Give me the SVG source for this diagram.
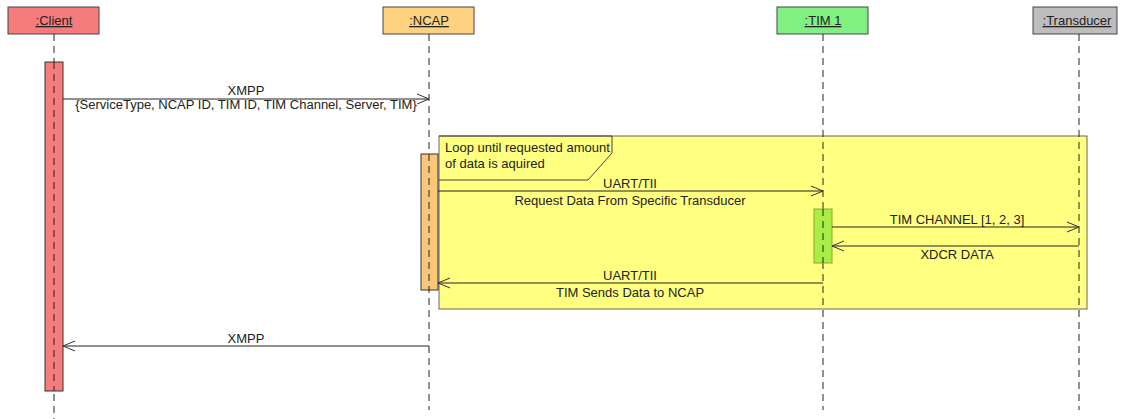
<svg xmlns="http://www.w3.org/2000/svg" width="1122" height="419" viewBox="0 0 1122 419">
  <style>
    .head { stroke: #444; stroke-width: 1; }
    .name { font-family: "Liberation Sans", Arial, sans-serif; font-size: 13px; fill: #222; text-anchor: middle; text-decoration: underline; }
    .life { stroke: #222; stroke-width: 1; stroke-dasharray: 7 5; fill: none; }
    .act { stroke: #333; stroke-width: 1; }
    .msg { stroke: #222; stroke-width: 1; fill: none; }
    .lbl { font-family: "Liberation Sans", Arial, sans-serif; font-size: 13px; fill: #222; text-anchor: middle; }
    .note { font-family: "Liberation Sans", Arial, sans-serif; font-size: 13px; fill: #222; }
  </style>
  <defs>
    <marker id="open" viewBox="0 0 12 12" refX="12" refY="6" markerWidth="12" markerHeight="12" markerUnits="userSpaceOnUse" orient="auto">
      <path d="M0,1 L12,6 L0,11" fill="none" stroke="#333" stroke-width="1"/>
    </marker>
  </defs>
  <rect width="1122" height="419" fill="#fff"/>

  <!-- combined fragment: loop -->
  <g id="loop">
    <rect x="439" y="136" width="648" height="173" fill="#FFFF80" stroke="#666" stroke-width="1"/>
    <path d="M439,136 H612 V153 L588,180 H439" fill="none" stroke="#444" stroke-width="1"/>
    <text class="note" x="445" y="152">Loop until requested amount</text>
    <text class="note" x="445" y="168">of data is aquired</text>
  </g>

  <!-- lifelines -->
  <g id="client">
    <rect class="head" x="8" y="7" width="91" height="27" fill="#F47C7C"/>
    <text class="name" x="54" y="25">:Client</text>
    <line class="life" x1="54" y1="34" x2="54" y2="419"/>
    <rect class="act" x="45" y="62" width="18" height="329" fill="#F47C7C"/>
    <line class="life" x1="54" y1="62" x2="54" y2="391"/>
  </g>
  <g id="ncap">
    <rect class="head" x="383" y="7" width="91" height="27" fill="#FED27F"/>
    <text class="name" x="429" y="25">:NCAP</text>
    <line class="life" x1="429" y1="34" x2="429" y2="410"/>
    <rect class="act" x="421" y="154" width="17" height="136" fill="#FCC678"/>
    <line class="life" x1="429" y1="154" x2="429" y2="290"/>
  </g>
  <g id="tim1">
    <rect class="head" x="777" y="7" width="91" height="27" fill="#80F080"/>
    <text class="name" x="823" y="25">:TIM 1</text>
    <line class="life" x1="823" y1="34" x2="823" y2="410"/>
    <rect x="814" y="209" width="18" height="54" fill="#A8EE44" stroke="#8AA830" stroke-width="1"/>
    <line class="life" x1="823" y1="209" x2="823" y2="263"/>
  </g>
  <g id="transducer">
    <rect class="head" x="1033" y="7" width="84" height="27" fill="#BDBDBD"/>
    <text class="name" x="1077" y="25">:Transducer</text>
    <line class="life" x1="1079" y1="34" x2="1079" y2="410"/>
  </g>

  <!-- messages -->
  <g id="connectors">
    <line class="msg" x1="63" y1="99" x2="429" y2="99" marker-end="url(#open)"/>
    <text class="lbl" x="246" y="95">XMPP</text>
    <text class="lbl" x="246" y="109">{ServiceType, NCAP ID, TIM ID, TIM Channel, Server, TIM}</text>

    <line class="msg" x1="438" y1="191" x2="823" y2="191" marker-end="url(#open)"/>
    <text class="lbl" x="630" y="188">UART/TII</text>
    <text class="lbl" x="630" y="205">Request Data From Specific Transducer</text>

    <line class="msg" x1="832" y1="227" x2="1079" y2="227" marker-end="url(#open)"/>
    <text class="lbl" x="957" y="224">TIM CHANNEL [1, 2, 3]</text>

    <line class="msg" x1="1079" y1="246" x2="832" y2="246" marker-end="url(#open)"/>
    <text class="lbl" x="957" y="259">XDCR DATA</text>

    <line class="msg" x1="823" y1="283" x2="438" y2="283" marker-end="url(#open)"/>
    <text class="lbl" x="630" y="280">UART/TII</text>
    <text class="lbl" x="630" y="297">TIM Sends Data to NCAP</text>

    <line class="msg" x1="429" y1="346" x2="63" y2="346" marker-end="url(#open)"/>
    <text class="lbl" x="246" y="343">XMPP</text>
  </g>
</svg>
